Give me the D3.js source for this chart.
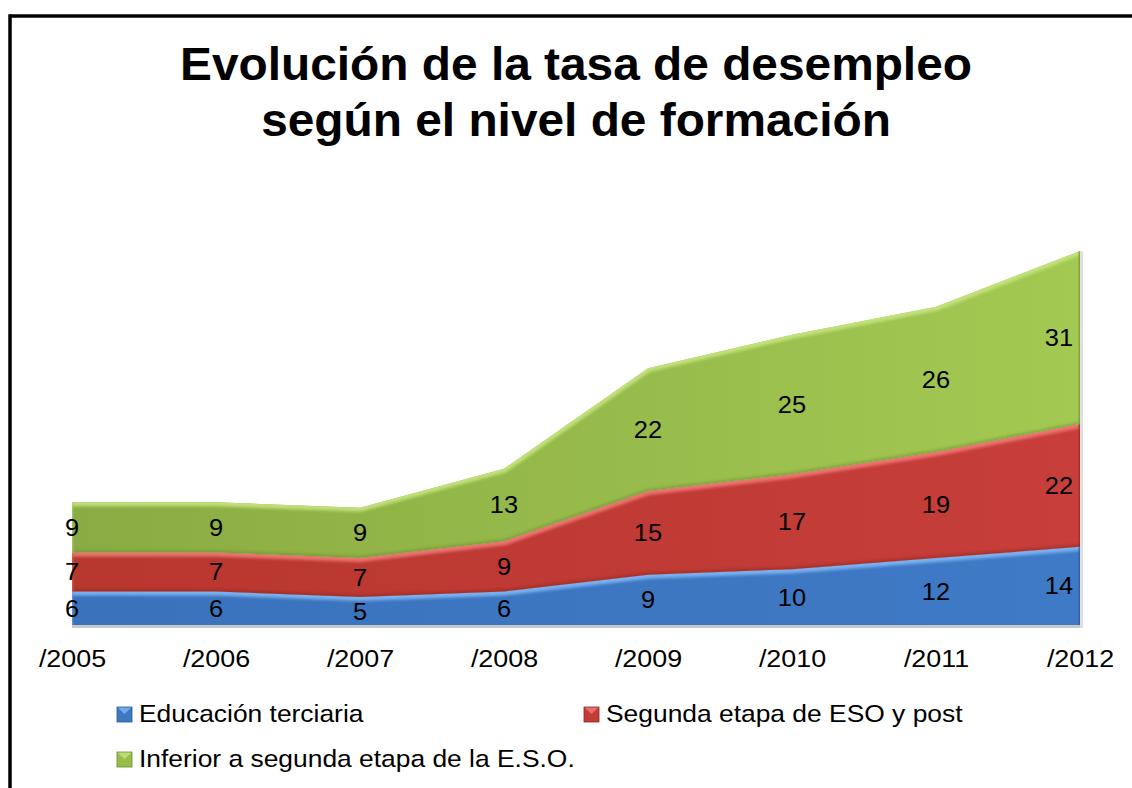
<!DOCTYPE html>
<html><head><meta charset="utf-8">
<script src="https://cdn.jsdelivr.net/npm/d3@7"></script>
<style>
html,body{margin:0;padding:0;background:#fff;}
svg{display:block;font-family:Arial,"Liberation Sans",sans-serif;}
</style></head>
<body>
<svg id="chart" width="1132" height="788"></svg>
<script>
const years = ["/2005","/2006","/2007","/2008","/2009","/2010","/2011","/2012"];
const terciaria = [6,6,5,6,9,10,12,14];
const segunda = [7,7,7,9,15,17,19,22];
const inferior = [9,9,9,13,22,25,26,31];
const seriesNames = ["Educación terciaria","Segunda etapa de ESO y post","Inferior a segunda etapa de la E.S.O."];
const titleLines = ["Evolución de la tasa de desempleo","según el nivel de formación"];

const svg = d3.select("#chart");
const W = 1132, H = 788;

// frame
svg.append("line").attr("x1",10).attr("x2",W).attr("y1",16).attr("y2",16).attr("stroke","#000").attr("stroke-width",3.5);
svg.append("line").attr("x1",10).attr("x2",10).attr("y1",14.25).attr("y2",H).attr("stroke","#000").attr("stroke-width",3.5);

// title
svg.selectAll("text.title").data(titleLines).join("text")
  .attr("class","title")
  .attr("transform",(d,i)=>`translate(576,${80+i*56}) scale(1.04,1)`)
  .attr("text-anchor","middle")
  .attr("font-weight","bold").attr("font-size",46)
  .text(d=>d);

const table = years.map((y,i)=>({year:y, t:terciaria[i], s:segunda[i], inf:inferior[i]}));
const keys = ["t","s","inf"];
const stack = d3.stack().keys(keys)(table);

const x = d3.scalePoint().domain(years).range([72,1080]);
const y = d3.scaleLinear().domain([0,67]).range([625,251]);

const colors = {
  t:{base:"#3d78c3", light:"#80b8f4", dark:"#2a5590"},
  s:{base:"#c33c37", light:"#f07a76", dark:"#8a2622"},
  inf:{base:"#98bd4b", light:"#c6e480", dark:"#6c8a30"}
};

const defs = svg.append("defs");
const gg = defs.append("linearGradient").attr("id","gGreen").attr("x1","0").attr("x2","1").attr("y1","0").attr("y2","0");
gg.append("stop").attr("offset","0%").attr("stop-color","#8aab43");
gg.append("stop").attr("offset","100%").attr("stop-color","#a3c952");
const gr = defs.append("linearGradient").attr("id","gRed").attr("x1","0").attr("x2","1").attr("y1","0").attr("y2","0");
gr.append("stop").attr("offset","0%").attr("stop-color","#b8372f");
gr.append("stop").attr("offset","100%").attr("stop-color","#c73e3a");
const gb = defs.append("linearGradient").attr("id","gBlue").attr("x1","0").attr("x2","1").attr("y1","0").attr("y2","0");
gb.append("stop").attr("offset","0%").attr("stop-color","#3a72bc");
gb.append("stop").attr("offset","100%").attr("stop-color","#3f7ac6");
const fills = {t:"url(#gBlue)", s:"url(#gRed)", inf:"url(#gGreen)"};

defs.append("filter").attr("id","blur").append("feGaussianBlur").attr("stdDeviation",1.6);

const area = d3.area().x(d=>x(d.data.year)).y0(d=>y(d[0])).y1(d=>y(d[1]));
const topLine = d3.line().x(d=>x(d.data.year)).y(d=>y(d[1]));
const botLine = d3.line().x(d=>x(d.data.year)).y(d=>y(d[0]));

// shadow
svg.append("rect").attr("x",72).attr("y",625).attr("width",1011).attr("height",3).attr("fill","#c8c8c8");
svg.append("rect").attr("x",1080).attr("y",251).attr("width",3).attr("height",377).attr("fill","#e0e0e0");

const g = svg.append("g");
stack.forEach((s,i)=>{
  const k = s.key;
  const cid = "clip"+k;
  defs.append("clipPath").attr("id",cid).append("path").attr("d",area(s));
  g.append("path").attr("d",area(s)).attr("fill",fills[k]);
  const cg = g.append("g").attr("clip-path",`url(#${cid})`);
  cg.append("path").attr("d",botLine(s)).attr("fill","none").attr("stroke",colors[k].dark).attr("stroke-width",4).attr("opacity",0.55).attr("filter","url(#blur)");
  cg.append("path").attr("d",topLine(s)).attr("fill","none").attr("stroke",colors[k].light).attr("stroke-width",8).attr("opacity",0.9).attr("filter","url(#blur)");
  cg.append("line").attr("x1",1080).attr("x2",1080).attr("y1",0).attr("y2",700).attr("stroke",colors[k].dark).attr("stroke-width",3).attr("opacity",0.6);
  cg.append("line").attr("x1",72).attr("x2",72).attr("y1",0).attr("y2",700).attr("stroke",colors[k].light).attr("stroke-width",3).attr("opacity",0.4);
});

// value labels
stack.forEach(s=>{
  g.selectAll(null).data(s).join("text")
    .attr("transform",d=>{const px=x(d.data.year); const lx = px===1080 ? 1059 : px; return `translate(${lx},${y((d[0]+d[1])/2)+8.5}) scale(1.06,1)`;})
    .attr("text-anchor","middle")
    .attr("font-size",24).attr("fill","#000")
    .text(d=>d[1]-d[0]);
});

// x axis labels
const xAxis = d3.axisBottom(x).tickSize(0).tickPadding(0);
const ax = svg.append("g").attr("transform","translate(0,650)").call(xAxis);
ax.select(".domain").remove();
ax.selectAll("text").attr("font-size",24).attr("fill","#000").attr("font-family","Arial, 'Liberation Sans', sans-serif")
  .attr("y",0).attr("dy",0).attr("transform","translate(0,17) scale(1.12,1)");

// legend
const legendItems = [
  {name:seriesNames[0], k:"t", x:117, y:722},
  {name:seriesNames[1], k:"s", x:584, y:722},
  {name:seriesNames[2], k:"inf", x:117, y:767}
];
const lg = svg.append("g");
legendItems.forEach(it=>{
  const c = colors[it.k];
  lg.append("rect").attr("x",it.x).attr("y",it.y-15).attr("width",15).attr("height",15).attr("fill",c.base);
  lg.append("path").attr("d",`M${it.x},${it.y-15} L${it.x+7.5},${it.y-8} L${it.x+15},${it.y-15} Z`).attr("fill",c.light).attr("opacity",0.8);
  lg.append("rect").attr("x",it.x).attr("y",it.y-15).attr("width",15).attr("height",15).attr("fill","none").attr("stroke",c.dark).attr("stroke-width",0.8);
  lg.append("text").attr("transform",`translate(${it.x+22},${it.y}) scale(1.1,1)`).attr("font-size",24).attr("fill","#000").text(it.name);
});
</script>
</body></html>
